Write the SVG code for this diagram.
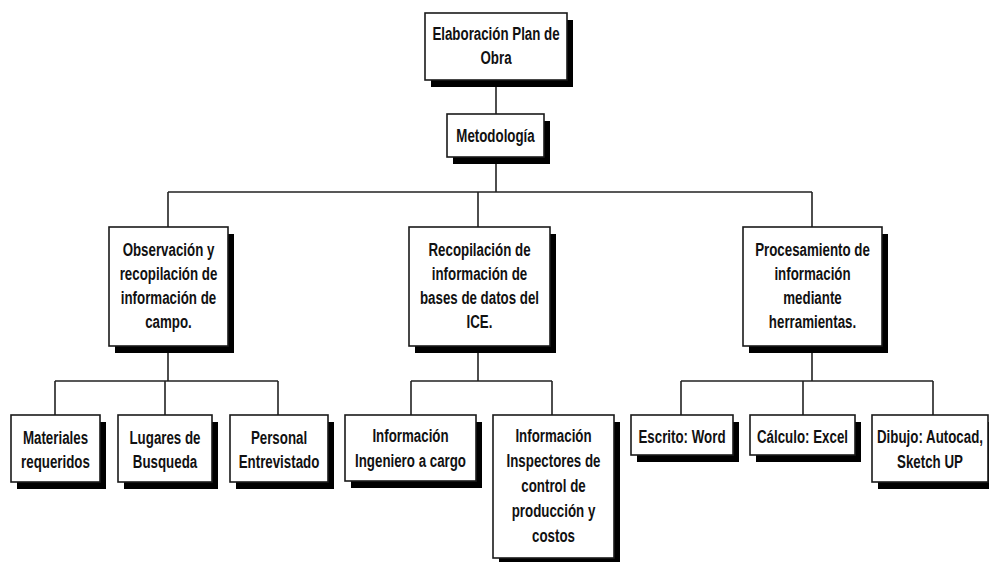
<svg xmlns="http://www.w3.org/2000/svg" width="989" height="562" viewBox="0 0 989 562">
<style>
.box{fill:#fff;stroke:#1a1a1a;stroke-width:1.6}
.sh{fill:#000}
.t{font-family:"Liberation Sans",Arial,sans-serif;font-weight:bold;font-size:18.5px;fill:#111;text-anchor:middle}
.c{stroke:#222;stroke-width:1.6;fill:none}
</style>
<rect width="989" height="562" fill="#fff"/>
<g id="connectors">
<path class="c" d="M496,80V114M496,157V192M168,192H812M168,192V227M478,192V227M812,192V227"/>
<path class="c" d="M168,346V381M55,381H278M55,381V415M165,381V415M278,381V415"/>
<path class="c" d="M478,346V381M411,381H552M411,381V415M552,381V415"/>
<path class="c" d="M812,346V381M681,381H933M681,381V415M803,381V415M933,381V415"/>
</g>
<g id="n-top"><rect class="sh" x="431" y="20" width="142" height="67"/><rect class="box" x="425" y="13" width="142" height="67"/><g transform="translate(496 0) scale(0.72 1)"><text class="t" x="0" y="40">Elaboración Plan de</text><text class="t" x="0" y="64">Obra</text></g></g>
<g id="n-meto"><rect class="sh" x="453" y="121" width="97" height="43"/><rect class="box" x="447" y="114" width="97" height="43"/><g transform="translate(495.5 0) scale(0.72 1)"><text class="t" x="0" y="142">Metodología</text></g></g>
<g id="n-obs"><rect class="sh" x="115" y="234" width="119" height="119"/><rect class="box" x="109" y="227" width="119" height="119"/><g transform="translate(168.5 0) scale(0.72 1)"><text class="t" x="0" y="256">Observación y</text><text class="t" x="0" y="280">recopilación de</text><text class="t" x="0" y="304">información de</text><text class="t" x="0" y="328">campo.</text></g></g>
<g id="n-rec"><rect class="sh" x="415" y="234" width="141" height="119"/><rect class="box" x="409" y="227" width="141" height="119"/><g transform="translate(479.5 0) scale(0.72 1)"><text class="t" x="0" y="256">Recopilación de</text><text class="t" x="0" y="280">información de</text><text class="t" x="0" y="304">bases de datos del</text><text class="t" x="0" y="328">ICE.</text></g></g>
<g id="n-proc"><rect class="sh" x="749" y="234" width="139" height="119"/><rect class="box" x="743" y="227" width="139" height="119"/><g transform="translate(812.5 0) scale(0.72 1)"><text class="t" x="0" y="256">Procesamiento de</text><text class="t" x="0" y="280">información</text><text class="t" x="0" y="304">mediante</text><text class="t" x="0" y="328">herramientas.</text></g></g>
<g id="n-mat"><rect class="sh" x="17" y="422" width="89" height="67"/><rect class="box" x="11" y="415" width="89" height="67"/><g transform="translate(55.5 0) scale(0.72 1)"><text class="t" x="0" y="444">Materiales</text><text class="t" x="0" y="468">requeridos</text></g></g>
<g id="n-lug"><rect class="sh" x="124" y="422" width="94" height="67"/><rect class="box" x="118" y="415" width="94" height="67"/><g transform="translate(165 0) scale(0.72 1)"><text class="t" x="0" y="444">Lugares de</text><text class="t" x="0" y="468">Busqueda</text></g></g>
<g id="n-per"><rect class="sh" x="236" y="422" width="98" height="67"/><rect class="box" x="230" y="415" width="98" height="67"/><g transform="translate(279 0) scale(0.72 1)"><text class="t" x="0" y="444">Personal</text><text class="t" x="0" y="468">Entrevistado</text></g></g>
<g id="n-ing"><rect class="sh" x="351" y="422" width="131" height="66"/><rect class="box" x="345" y="415" width="131" height="66"/><g transform="translate(410.5 0) scale(0.72 1)"><text class="t" x="0" y="442">Información</text><text class="t" x="0" y="467">Ingeniero a cargo</text></g></g>
<g id="n-insp"><rect class="sh" x="499" y="422" width="121" height="143"/><rect class="box" x="493" y="415" width="121" height="143"/><g transform="translate(553.5 0) scale(0.72 1)"><text class="t" x="0" y="442">Información</text><text class="t" x="0" y="467">Inspectores de</text><text class="t" x="0" y="492">control de</text><text class="t" x="0" y="517">producción y</text><text class="t" x="0" y="542">costos</text></g></g>
<g id="n-esc"><rect class="sh" x="637" y="422" width="102" height="40"/><rect class="box" x="631" y="415" width="102" height="40"/><g transform="translate(682 0) scale(0.72 1)"><text class="t" x="0" y="443">Escrito: Word</text></g></g>
<g id="n-calc"><rect class="sh" x="756" y="422" width="105" height="40"/><rect class="box" x="750" y="415" width="105" height="40"/><g transform="translate(802.5 0) scale(0.72 1)"><text class="t" x="0" y="443">Cálculo: Excel</text></g></g>
<g id="n-dib"><rect class="sh" x="878" y="422" width="116" height="67"/><rect class="box" x="872" y="415" width="116" height="67"/><g transform="translate(930 0) scale(0.72 1)"><text class="t" x="0" y="443">Dibujo: Autocad,</text><text class="t" x="0" y="468">Sketch UP</text></g></g>
</svg>
